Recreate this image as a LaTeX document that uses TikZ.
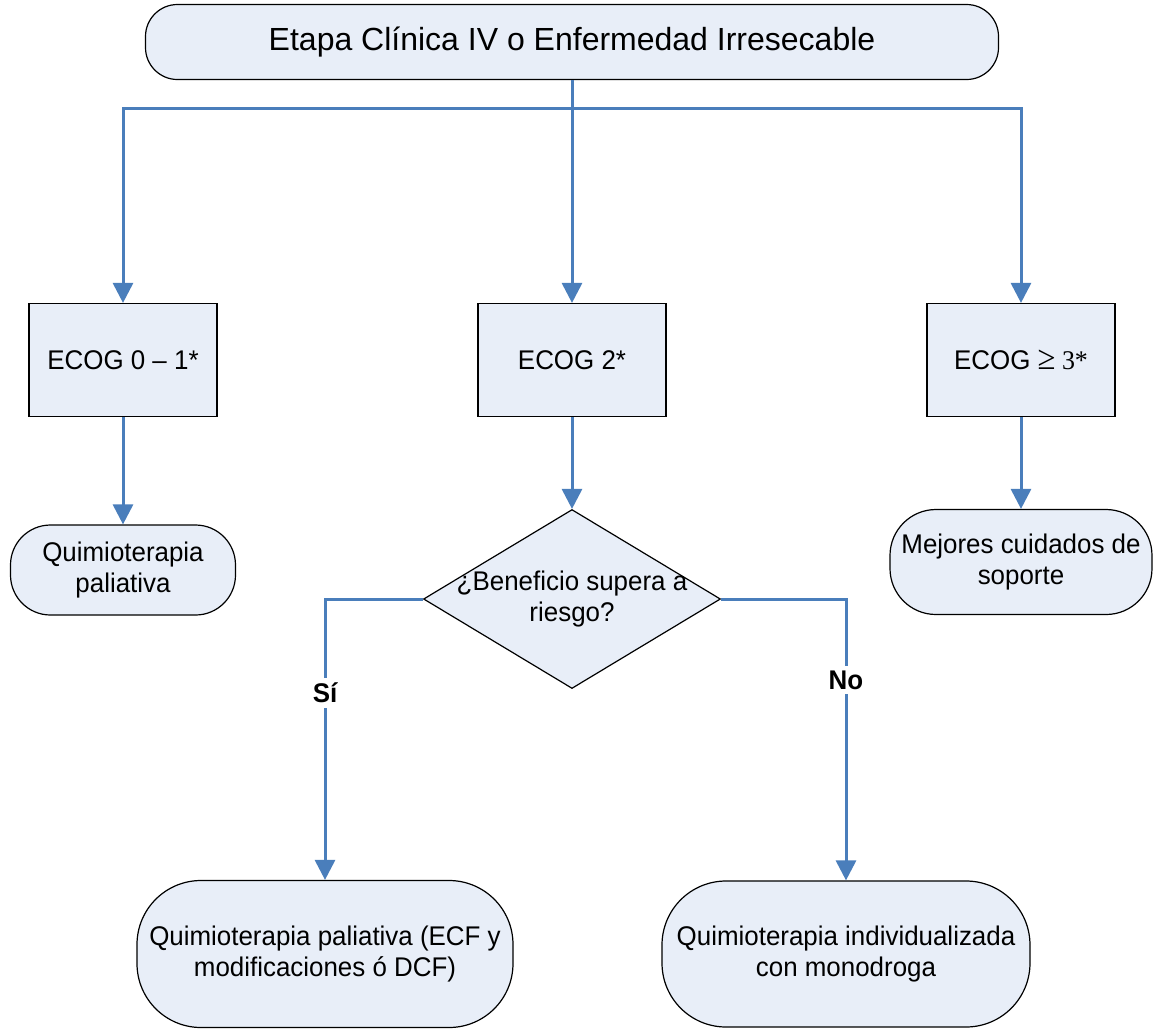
\documentclass[tikz,border=0pt]{standalone}
\usepackage{fontspec}
\setmainfont{Liberation Sans}[FakeStretch=0.96]
\newfontfamily\titlefont{Liberation Sans}
\newfontfamily\serifnum{Liberation Serif}[FakeStretch=0.96]
\usetikzlibrary{arrows.meta}
\usetikzlibrary{shapes}

\definecolor{boxfill}{HTML}{E8EEF8}
\definecolor{flowblue}{HTML}{4A7EBB}

\begin{document}
\begin{tikzpicture}[x=0.5pt,y=-0.5pt,
  box/.style={rectangle,draw=black,fill=boxfill,line width=0.6pt,align=center,inner sep=0pt,font=\fontsize{13.5}{15.5}\selectfont},
  flow/.style={draw=flowblue,line width=1.5pt,-{Triangle[length=10pt,width=10pt]}},
  tag/.style={fill=white,font=\fontsize{13.5}{15.5}\selectfont\bfseries,inner sep=2.5pt}]
\useasboundingbox (0,0) rectangle (1158,1030);

\node(A) at (572,42) [box,rounded corners=16pt,minimum width=426.5pt,minimum height=37.5pt,font=\titlefont\fontsize{16}{19}\selectfont]{Etapa Clínica IV o Enfermedad Irresecable};
\coordinate(S) at (572,108);

\node(B1) at (123,360) [box,minimum width=94pt,minimum height=56.5pt]{ECOG 0 – 1*};
\node(B2) at (572,360) [box,minimum width=94pt,minimum height=56.5pt]{ECOG 2*};
\node(B3) at (1021,360) [box,minimum width=94pt,minimum height=56.5pt]{ECOG {\serifnum{\fontsize{17}{15.5}\selectfont≥} 3*}};

\node(C1) at (123,570) [box,rounded corners=20pt,minimum width=112.5pt,minimum height=45pt]{Quimioterapia\\paliativa};
\node(D) at (572,599) [box,diamond,minimum width=148.5pt,minimum height=89.5pt,label={[align=center,font=\fontsize{13.5}{15.5}\selectfont]center:{¿Beneficio supera a\\riesgo?}}]{};
\node(C3) at (1021,562) [box,rounded corners=23pt,minimum width=131pt,minimum height=52.5pt]{Mejores cuidados de\\soporte};

\node(E1) at (325,954) [box,rounded corners=32pt,minimum width=188pt,minimum height=73.5pt]{Quimioterapia paliativa (ECF y\\modificaciones ó DCF)};
\node(E2) at (846,954) [box,rounded corners=32pt,minimum width=184pt,minimum height=73pt]{Quimioterapia individualizada\\con monodroga};

\draw[flow] (A.south) -- (B2.north);
\draw[flow] (S) -| (B1.north);
\draw[flow] (S) -| (B3.north);
\draw[flow] (B1.south) -- (C1.north);
\draw[flow] (B2.south) -- (D.north);
\draw[flow] (B3.south) -- (C3.north);
\draw[flow] (D.west) -| node[tag,pos=0.667]{Sí} (E1.north);
\draw[flow] (D.east) -| node[tag,pos=0.644]{No} (E2.north);
\end{tikzpicture}
\end{document}
